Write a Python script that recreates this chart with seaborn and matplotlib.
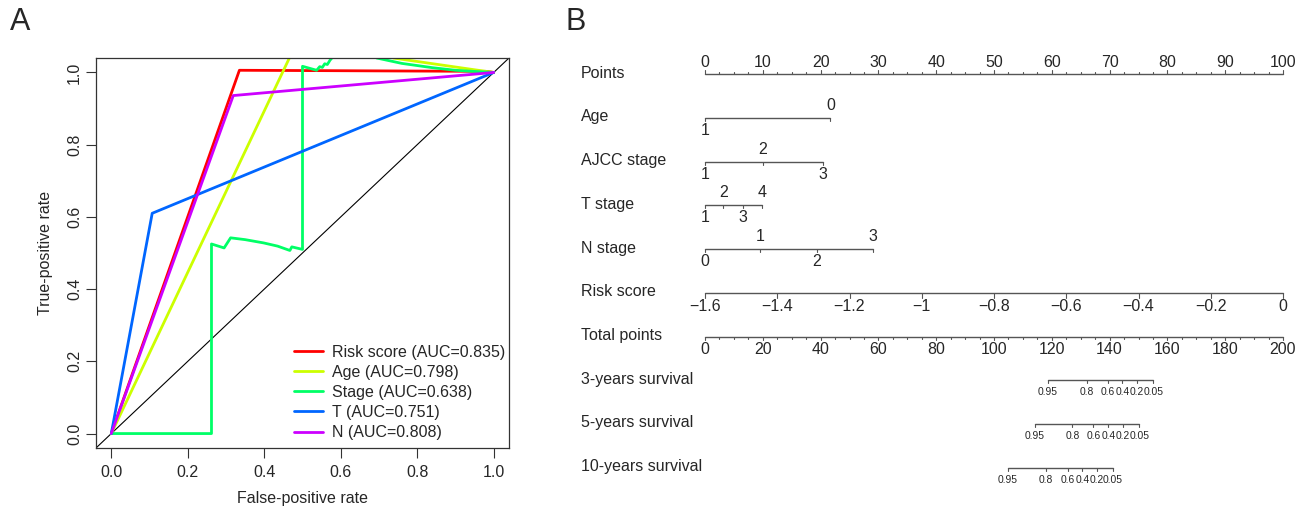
import numpy as np
import pandas as pd
import matplotlib
matplotlib.use("Agg")
import matplotlib.pyplot as plt
import seaborn as sns

# ---------------- Panel A data (ROC curves) ----------------
roc_labels = ["Risk score (AUC=0.835)", "Age (AUC=0.798)", "Stage (AUC=0.638)",
              "T (AUC=0.751)", "N (AUC=0.808)"]
roc_colors = ["#FF0000", "#CCFF00", "#00FF66", "#0066FF", "#CC00FF"]

risk_fpr = [0.0, 0.335, 0.98, 1.0]
risk_tpr = [0.0, 1.006, 1.003, 1.0]
age_fpr = [0.0, 0.60, 0.737, 0.946, 1.0]
age_tpr = [0.0, 1.34, 1.04, 1.008, 1.0]
stage_fpr = [0.0, 0.262, 0.262, 0.295, 0.312, 0.35, 0.398, 0.435, 0.467, 0.472, 0.50, 0.50,
             0.537, 0.545, 0.552, 0.558, 0.565, 0.572, 0.585, 0.64, 0.694, 0.76, 0.841,
             0.90, 0.946, 1.0]
stage_tpr = [0.0, 0.0, 0.525, 0.514, 0.542, 0.537, 0.528, 0.519, 0.507, 0.517, 0.51, 1.017,
             1.006, 1.016, 1.014, 1.024, 1.022, 1.034, 1.05, 1.15, 1.04, 1.025, 1.013,
             1.006, 1.003, 1.0]
t_fpr = [0.0, 0.107, 1.0]
t_tpr = [0.0, 0.61, 1.0]
n_fpr = [0.0, 0.319, 1.0]
n_tpr = [0.0, 0.936, 1.0]

# ---------------- Panel B data (nomogram) ----------------
points_ticks = list(range(0, 101, 10))
age_levels = ["1", "0"]
age_points = [0.0, 21.7]
ajcc_levels = ["1", "2", "3"]
ajcc_points = [0.0, 10.0, 20.4]
tstage_levels = ["1", "2", "3", "4"]
tstage_points = [0.0, 3.2, 6.5, 9.9]
nstage_levels = ["0", "1", "2", "3"]
nstage_points = [0.0, 9.5, 19.3, 29.1]
risk_ticks = [-1.6, -1.4, -1.2, -1.0, -0.8, -0.6, -0.4, -0.2, 0.0]
risk_tick_labels = ["\u22121.6", "\u22121.4", "\u22121.2", "\u22121", "\u22120.8",
                    "\u22120.6", "\u22120.4", "\u22120.2", "0"]
total_ticks = list(range(0, 201, 20))
surv_labels = ["0.95", "0.8", "0.6", "0.4", "0.2", "0.05"]
surv3_total = [118.6, 132.1, 139.4, 144.4, 149.4, 155.1]
surv5_total = [114.2, 127.1, 134.4, 139.6, 144.5, 150.3]
surv10_total = [104.7, 118.0, 125.5, 130.6, 135.5, 141.1]
row_names = ["Points", "Age", "AJCC stage", "T stage", "N stage", "Risk score",
             "Total points", "3-years survival", "5-years survival", "10-years survival"]

sns.set_style("ticks")
plt.rcParams["font.family"] = ["Liberation Sans", "DejaVu Sans"]

W, H = 1309, 514
fig = plt.figure(figsize=(W / 100, H / 100), dpi=100)

# ================= Panel A =================
axA = fig.add_axes([96 / W, (H - 448) / H, 413 / W, 390 / H])
frames = []
for lab, fx, ty in zip(roc_labels,
                       [risk_fpr, age_fpr, stage_fpr, t_fpr, n_fpr],
                       [risk_tpr, age_tpr, stage_tpr, t_tpr, n_tpr]):
    frames.append(pd.DataFrame({"fpr": fx, "tpr": ty, "model": lab}))
df = pd.concat(frames, ignore_index=True)
axA.axline((0, 0), (1, 1), color="black", lw=0.8, zorder=1)
sns.lineplot(data=df, x="fpr", y="tpr", hue="model", hue_order=roc_labels,
             palette=dict(zip(roc_labels, roc_colors)), sort=False, estimator=None,
             lw=2, ax=axA, zorder=2)
axA.set_xlim(-0.04, 1.04)
axA.set_ylim(-0.04, 1.04)
ticks = [0.0, 0.2, 0.4, 0.6, 0.8, 1.0]
axA.set_xticks(ticks)
axA.set_yticks(ticks)
axA.set_xticklabels([f"{t:.1f}" for t in ticks])
axA.set_yticklabels([f"{t:.1f}" for t in ticks], rotation=90, va="center")
axA.tick_params(length=7, width=0.8, labelsize=11.5, pad=5, color="#333333")
axA.tick_params(axis="y", pad=3)
for s in axA.spines.values():
    s.set_visible(True)
    s.set_linewidth(0.9)
    s.set_color("#333333")
axA.set_xlabel("False-positive rate", fontsize=11.5, labelpad=8)
axA.set_ylabel("True-positive rate", fontsize=11.5, labelpad=10)
h, l = axA.get_legend_handles_labels()
axA.legend(h, l, loc="upper left", bbox_to_anchor=(0.48, 0.265), frameon=False,
           fontsize=11.5, handlelength=1.8, handletextpad=0.55, labelspacing=0.32,
           borderaxespad=0, borderpad=0)
fig.text(10 / W, 1 - 22 / H, "A", fontsize=22, va="center", ha="left")
fig.text(566 / W, 1 - 22 / H, "B", fontsize=22, va="center", ha="left")

# ================= Panel B =================
px_per_pt = 5.78
row_px = 43.7
x0 = 705
axB = fig.add_axes([560 / W, 0, (W - 560) / W, 1])
axB.set_xlim((560 - x0) / px_per_pt, (W - x0) / px_per_pt)
axB.set_ylim((H - 74.3) / row_px, -74.3 / row_px)
axB.axis("off")

LC = "#555555"
FS = 11.5


def py(px):
    return px / row_px


def scale(row, xs, labels, pos, tick_dir=1, tick_len=3, fs=FS, offs=12.5, minor=None):
    axB.plot([min(xs), max(xs)], [row, row], color=LC, lw=1)
    if minor is not None:
        for m in minor:
            axB.plot([m, m], [row, row + tick_dir * py(2)], color=LC, lw=0.8)
    for x, lab, p in zip(xs, labels, pos):
        axB.plot([x, x], [row, row + tick_dir * py(tick_len)], color=LC, lw=0.8)
        yy = row - py(offs) if p == "above" else row + py(offs)
        axB.text(x, yy, lab, ha="center", va="center", fontsize=fs)


label_x = (581 - x0) / px_per_pt
for i, name in enumerate(row_names):
    axB.text(label_x, i - py(1), name, ha="left", va="center", fontsize=FS)

# Points
scale(0, points_ticks, [str(t) for t in points_ticks], ["above"] * len(points_ticks),
      tick_dir=-1, tick_len=4, offs=12,
      minor=[m for m in np.arange(0, 100.1, 2.5) if m % 10 != 0])


def alt_pos(n):
    return ["below" if k % 2 == 0 else "above" for k in range(n)]


for row, (lv, pts) in enumerate([(age_levels, age_points), (ajcc_levels, ajcc_points),
                                 (tstage_levels, tstage_points),
                                 (nstage_levels, nstage_points)], start=1):
    order = np.argsort(pts)
    xs = [pts[k] for k in order]
    labs = [lv[k] for k in order]
    scale(row, xs, labs, alt_pos(len(xs)), tick_dir=1, tick_len=3, offs=12.5)

# Risk score
risk_pts = [(r + 1.6) / 1.6 * 100 for r in risk_ticks]
scale(5, risk_pts, risk_tick_labels, ["below"] * len(risk_pts), tick_dir=1, tick_len=5,
      offs=14)

# Total points
tot_x = [t * 100 / 200 for t in total_ticks]
scale(6, tot_x, [str(t) for t in total_ticks], ["below"] * len(tot_x), tick_dir=1,
      tick_len=3, offs=12.5,
      minor=[m * 100 / 200 for m in range(0, 201, 5) if m % 20 != 0])

for row, tot in zip([7, 8, 9], [surv3_total, surv5_total, surv10_total]):
    xs = [t * 100 / 200 for t in tot]
    scale(row, xs, surv_labels, ["below"] * len(xs), tick_dir=1, tick_len=3, fs=7.4,
          offs=12)

fig.savefig("out.png", dpi=100)
